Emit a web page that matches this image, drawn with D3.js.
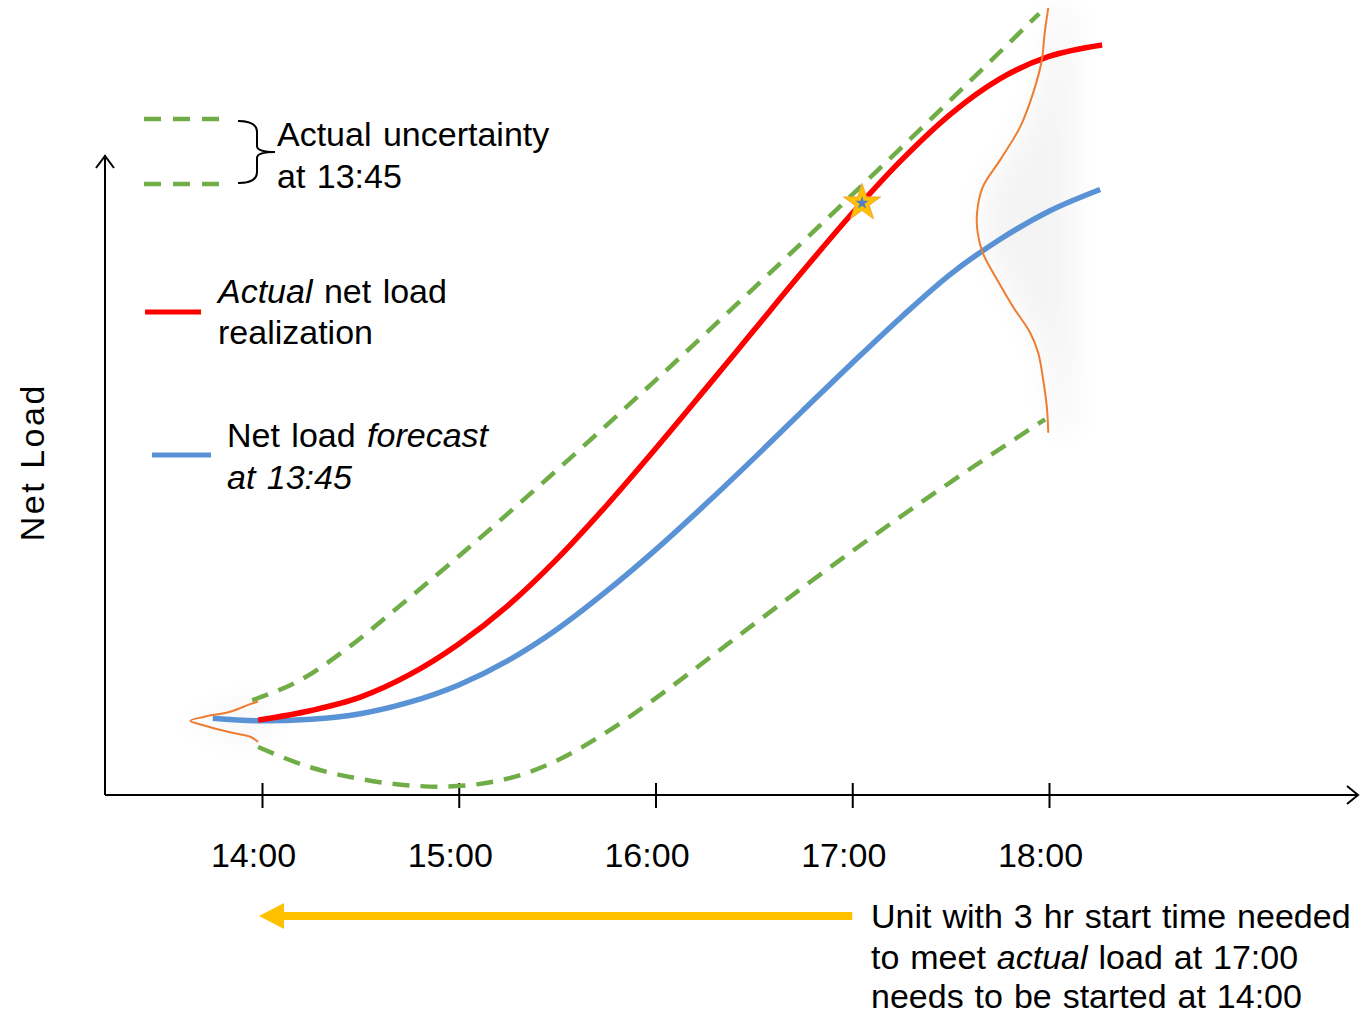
<!DOCTYPE html>
<html>
<head>
<meta charset="utf-8">
<script src="https://cdn.jsdelivr.net/npm/d3@7"></script>
<style>
  body { margin: 0; background: #fff; }
  svg text { font-family: "Liberation Sans", Arial, sans-serif; fill: #000; }
</style>
</head>
<body>
<svg id="chart"></svg>
<script>
// time in hours, net load in arbitrary units (0 = time axis, 100 = top of load axis)
const actualTime = [13.98, 14.25, 14.5, 14.75, 15.0, 15.25, 15.5, 15.75, 16.0, 16.25, 16.5, 16.75, 17.0, 17.25, 17.5, 17.75, 18.0, 18.27];
const actualLoad = [11.7, 13.2, 15.3, 18.8, 23.6, 29.6, 36.9, 45.2, 54.1, 63.3, 72.6, 81.9, 90.9, 99.2, 106.4, 111.9, 115.4, 117.2];

const forecastTime = [13.75, 14.0, 14.25, 14.5, 14.75, 15.0, 15.25, 15.5, 15.75, 16.0, 16.25, 16.5, 16.75, 17.0, 17.25, 17.5, 17.75, 18.0, 18.26];
const forecastLoad = [12.0, 11.6, 11.85, 12.7, 14.5, 17.2, 21.0, 25.9, 31.8, 38.3, 45.3, 52.6, 60.1, 67.5, 74.7, 81.4, 86.8, 91.2, 94.6];

const upperTime = [13.95, 14.2, 14.45, 14.7, 15.0, 15.5, 16.0, 16.5, 17.0, 17.5, 17.95];
const upperLoad = [14.8, 18.05, 23.3, 29.55, 37.3, 50.8, 64.8, 79.2, 93.8, 108.6, 122.1];

const lowerTime = [13.98, 14.25, 14.5, 14.75, 14.9, 15.1, 15.3, 15.5, 15.75, 16.0, 16.25, 16.5, 17.0, 17.5, 17.98];
const lowerLoad = [7.5, 4.3, 2.5, 1.5, 1.3, 1.7, 3.0, 5.4, 9.8, 15.1, 20.85, 26.7, 38.1, 48.9, 58.7];

// uncertainty distributions (relative density)
const densityNowTime = 13.98;
const densityNowLoad = [14.6, 14.2, 13.0, 12.2, 11.6, 10.9, 9.8, 9.1, 8.3];
const densityNowValue = [0.0, 0.11, 0.39, 0.76, 0.94, 0.76, 0.39, 0.11, 0.0];

const densityLaterTime = 18.0;
const densityLaterLoad = [123.0, 119.1, 114.8, 109.7, 104.4, 99.2, 95.0, 90.9, 87.8, 84.7, 80.5, 76.3, 72.2, 69.1, 64.8, 60.6, 56.6];
const densityLaterValue = [0.01, 0.06, 0.10, 0.22, 0.40, 0.68, 0.92, 1.0, 0.99, 0.92, 0.72, 0.50, 0.26, 0.15, 0.08, 0.03, 0.01];

const tickHours = [14, 15, 16, 17, 18];
const tickLabels = ["14:00", "15:00", "16:00", "17:00", "18:00"];

const starTime = 17.05;
const starLoad = 92.5;
const unitStartHour = 14;
const unitNeededHour = 17;

const width = 1360;
const height = 1014;

const svg = d3.select("#chart")
  .attr("width", width)
  .attr("height", height);

const x = d3.scaleLinear().domain([14, 18]).range([262, 1049]);
const y = d3.scaleLinear().domain([0, 100]).range([795, 155]);
const dens = d3.scaleLinear().domain([0, 1]).range([0, 72]);

const colors = {
  actual: "#ff0000",
  forecast: "#5a92d6",
  band: "#70ad47",
  dist: "#ed7d31",
  arrow: "#ffc000"
};

const defs = svg.append("defs");
defs.append("filter").attr("id", "soft")
  .attr("x", "-100%").attr("y", "-50%").attr("width", "300%").attr("height", "200%")
  .append("feGaussianBlur").attr("stdDeviation", 16);

function zip(ts, vs) {
  return ts.map((t, i) => [t, vs[i]]);
}

const line = d3.line()
  .x(d => x(d[0]))
  .y(d => y(d[1]))
  .curve(d3.curveMonotoneX);

// distributions: density drawn leftwards from the base time
function distLine(t0) {
  return d3.line()
    .x(d => x(t0) - dens(d[1]))
    .y(d => y(d[0]))
    .curve(d3.curveCatmullRom);
}

const distNow = zip(densityNowLoad, densityNowValue);
const distLater = zip(densityLaterLoad, densityLaterValue);

// soft shadow behind the distributions
svg.append("path")
  .datum(distLater)
  .attr("d", d3.area()
    .y(d => y(d[0]))
    .x0(d => x(densityLaterTime) - dens(d[1]) + 5)
    .x1(d => x(densityLaterTime) + 25)
    .curve(d3.curveCatmullRom))
  .attr("fill", "#000")
  .attr("opacity", 0.045)
  .attr("filter", "url(#soft)");

svg.append("path")
  .datum(distNow)
  .attr("d", d3.area()
    .y(d => y(d[0]))
    .x0(d => x(densityNowTime) - dens(d[1]) - 10)
    .x1(d => x(densityNowTime) + 10)
    .curve(d3.curveCatmullRom))
  .attr("fill", "#000")
  .attr("opacity", 0.04)
  .attr("filter", "url(#soft)");

// axes
const axisG = svg.append("g").attr("stroke", "#000").attr("stroke-width", 2).attr("fill", "none");
axisG.append("line")
  .attr("x1", 105).attr("x2", 1358)
  .attr("y1", y(0)).attr("y2", y(0));
axisG.append("path")
  .attr("d", `M1347,${y(0) - 9}L1358,${y(0)}L1347,${y(0) + 9}`);
axisG.append("line")
  .attr("x1", 105).attr("x2", 105)
  .attr("y1", y(0)).attr("y2", y(100));
axisG.append("path")
  .attr("d", `M96,${y(100) + 13}L105,${y(100) + 1}L114,${y(100) + 13}`);

const xAxis = svg.append("g")
  .attr("transform", `translate(0,${y(0) - 12})`)
  .call(d3.axisBottom(x)
    .tickValues(tickHours)
    .tickFormat((d, i) => tickLabels[i])
    .tickSize(25));
xAxis.select(".domain").remove();
xAxis.selectAll(".tick line").attr("stroke", "#000").attr("stroke-width", 2);
xAxis.selectAll(".tick text")
  .attr("y", 84).attr("dy", 0).attr("dx", -9)
  .attr("font-size", 34)
  .attr("font-family", "Liberation Sans, Arial, sans-serif")
  .attr("fill", "#000");

svg.append("text")
  .attr("transform", `translate(44,${y(52)}) rotate(-90)`)
  .attr("text-anchor", "middle")
  .attr("font-size", 34)
  .attr("letter-spacing", 2.5)
  .text("Net Load");

// uncertainty band
[zip(upperTime, upperLoad), zip(lowerTime, lowerLoad)].forEach(d => {
  svg.append("path")
    .datum(d)
    .attr("d", line)
    .attr("fill", "none")
    .attr("stroke", colors.band)
    .attr("stroke-width", 4.5)
    .attr("stroke-dasharray", "17,11");
});

// forecast & actual
svg.append("path")
  .datum(zip(forecastTime, forecastLoad))
  .attr("d", line)
  .attr("fill", "none")
  .attr("stroke", colors.forecast)
  .attr("stroke-width", 5.5);

svg.append("path")
  .datum(zip(actualTime, actualLoad))
  .attr("d", line)
  .attr("fill", "none")
  .attr("stroke", colors.actual)
  .attr("stroke-width", 5.5);

// distribution outlines
svg.append("path")
  .datum(distNow)
  .attr("d", distLine(densityNowTime))
  .attr("fill", "none")
  .attr("stroke", colors.dist)
  .attr("stroke-width", 2);

svg.append("path")
  .datum(distLater)
  .attr("d", distLine(densityLaterTime))
  .attr("fill", "none")
  .attr("stroke", colors.dist)
  .attr("stroke-width", 2);

// star on the actual curve
const starG = svg.append("g")
  .attr("transform", `translate(${x(starTime)},${y(starLoad)})`);
starG.append("path")
  .attr("d", d3.symbol(d3.symbolStar, 430)())
  .attr("fill", colors.arrow)
  .attr("stroke", "#f2a33a")
  .attr("stroke-width", 1);
starG.append("path")
  .attr("d", d3.symbol(d3.symbolStar, 55)())
  .attr("fill", "#4f7fc4");

// legend
const leg = svg.append("g").attr("font-size", 34).attr("word-spacing", 2);
[119, 184].forEach(ly => {
  leg.append("line")
    .attr("x1", 144).attr("x2", 222)
    .attr("y1", ly).attr("y2", ly)
    .attr("stroke", colors.band)
    .attr("stroke-width", 4.5)
    .attr("stroke-dasharray", "17,12");
});
leg.append("path")
  .attr("d", "M238,121 Q257,121 257,132 L257,146 Q257,152 275,152 Q257,152 257,158 L257,172 Q257,183 238,183")
  .attr("fill", "none")
  .attr("stroke", "#000")
  .attr("stroke-width", 2);
leg.append("text").attr("x", 277).attr("y", 146).text("Actual uncertainty");
leg.append("text").attr("x", 277).attr("y", 188).text("at 13:45");

leg.append("line")
  .attr("x1", 145).attr("x2", 201).attr("y1", 312).attr("y2", 312)
  .attr("stroke", colors.actual).attr("stroke-width", 5);
const t1 = leg.append("text").attr("x", 218).attr("y", 303);
t1.append("tspan").attr("font-style", "italic").text("Actual");
t1.append("tspan").text(" net load");
leg.append("text").attr("x", 218).attr("y", 344).text("realization");

leg.append("line")
  .attr("x1", 152).attr("x2", 211).attr("y1", 455).attr("y2", 455)
  .attr("stroke", colors.forecast).attr("stroke-width", 5);
const t2 = leg.append("text").attr("x", 227).attr("y", 447);
t2.append("tspan").text("Net load ");
t2.append("tspan").attr("font-style", "italic").text("forecast");
leg.append("text").attr("x", 227).attr("y", 489)
  .attr("font-style", "italic").text("at 13:45");

// start-time arrow
const arrowY = 916;
svg.append("line")
  .attr("x1", x(unitNeededHour)).attr("x2", x(unitStartHour) + 18)
  .attr("y1", arrowY).attr("y2", arrowY)
  .attr("stroke", colors.arrow)
  .attr("stroke-width", 8);
svg.append("path")
  .attr("d", `M${x(unitStartHour) - 3},${arrowY} L${x(unitStartHour) + 22},${arrowY - 13} L${x(unitStartHour) + 22},${arrowY + 13} Z`)
  .attr("fill", colors.arrow);

const note = svg.append("g").attr("font-size", 34).attr("word-spacing", 1.5);
note.append("text").attr("x", 871).attr("y", 928).text("Unit with 3 hr start time needed");
const n2 = note.append("text").attr("x", 871).attr("y", 969);
n2.append("tspan").text("to meet ");
n2.append("tspan").attr("font-style", "italic").text("actual");
n2.append("tspan").text(" load at 17:00");
note.append("text").attr("x", 871).attr("y", 1008).text("needs to be started at 14:00");
</script>
</body>
</html>
